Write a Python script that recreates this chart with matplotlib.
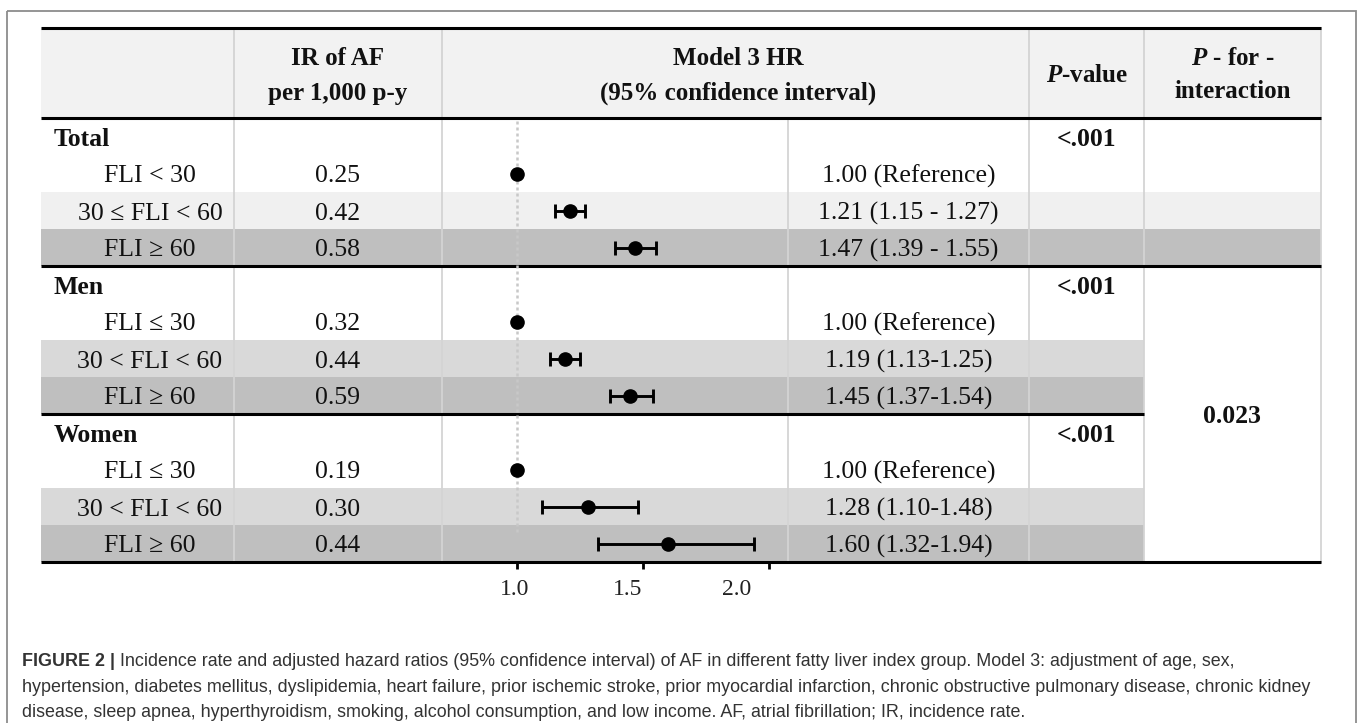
import matplotlib
matplotlib.use("Agg")
import matplotlib.pyplot as plt
from matplotlib.patches import Rectangle

plt.rcParams['font.family'] = ['Liberation Serif', 'DejaVu Serif']
plt.rcParams['mathtext.fontset'] = 'custom'
plt.rcParams['mathtext.it'] = 'Liberation Serif:italic:bold'
plt.rcParams['mathtext.rm'] = 'Liberation Serif:bold'

# data
groups = ['Total', 'Men', 'Women']
sub_labels = [['FLI < 30', '30 ≤ FLI < 60', 'FLI ≥ 60'],
              ['FLI ≤ 30', '30 < FLI < 60', 'FLI ≥ 60'],
              ['FLI ≤ 30', '30 < FLI < 60', 'FLI ≥ 60']]
ir_af = [['0.25', '0.42', '0.58'],
         ['0.32', '0.44', '0.59'],
         ['0.19', '0.30', '0.44']]
hr = [[1.00, 1.21, 1.47], [1.00, 1.19, 1.45], [1.00, 1.28, 1.60]]
hr_lo = [[1.00, 1.15, 1.39], [1.00, 1.13, 1.37], [1.00, 1.10, 1.32]]
hr_hi = [[1.00, 1.27, 1.55], [1.00, 1.25, 1.54], [1.00, 1.48, 1.94]]
hr_text = [['1.00 (Reference)', '1.21 (1.15 - 1.27)', '1.47 (1.39 - 1.55)'],
           ['1.00 (Reference)', '1.19 (1.13-1.25)', '1.45 (1.37-1.54)'],
           ['1.00 (Reference)', '1.28 (1.10-1.48)', '1.60 (1.32-1.94)']]
p_values = ['<.001', '<.001', '<.001']
p_interaction = '0.023'
ref_hr = 1.0
x_ticks = [1.0, 1.5, 2.0]
x_tick_labels = ['1.0', '1.5', '2.0']
x_label_pos = [0.99, 1.44, 1.87]

caption_bold = 'FIGURE 2 |'
caption_lines = [
    ' Incidence rate and adjusted hazard ratios (95% confidence interval) of AF in different fatty liver index group. Model 3: adjustment of age, sex,',
    'hypertension, diabetes mellitus, dyslipidemia, heart failure, prior ischemic stroke, prior myocardial infarction, chronic obstructive pulmonary disease, chronic kidney',
    'disease, sleep apnea, hyperthyroidism, smoking, alcohol consumption, and low income. AF, atrial fibrillation; IR, incidence rate.',
]

# layout (pixels)
W, H = 1357, 723
left, right = 41, 1321
cols = [41, 234, 442, 788, 1029, 1144, 1321]
top, head_bot, bottom = 28, 118, 562
row_h = (bottom - head_bot) / 12
shades = [['white', '#f0f0f0', '#bfbfbf'],
          ['white', '#d9d9d9', '#bfbfbf'],
          ['white', '#d9d9d9', '#bfbfbf']]
txt = '#111111'
fs = 18.5

fig = plt.figure(figsize=(W / 100, H / 100), dpi=100)
ax = fig.add_axes([0, 0, 1, 1])
ax.set_xlim(0, W)
ax.set_ylim(H, 0)
ax.axis('off')

# outer frame
ax.add_patch(Rectangle((7, 11), 1349, 720, fill=False, ec='#8c8c8c', lw=1.3))

# header background
ax.add_patch(Rectangle((left, top), right - left, head_bot - top, color='#f2f2f2', lw=0))

# row shading
for g in range(3):
    x_end = right if g == 0 else cols[5]
    for k in range(3):
        y = head_bot + (4 * g + 1 + k) * row_h
        if shades[g][k] != 'white':
            ax.add_patch(Rectangle((left, y), x_end - left, row_h, color=shades[g][k], lw=0))

# vertical separators
vcol = '#d4d4d4'
for x in cols[1:]:
    y0 = head_bot if x == cols[3] else top
    ax.plot([x, x], [y0, bottom], color=vcol, lw=1.3, zorder=2)

# thick horizontal rules
for y, xe in [(top, right), (head_bot, right), (head_bot + 4 * row_h, right),
              (head_bot + 8 * row_h, cols[5]), (bottom, right)]:
    ax.plot([left, xe], [y, y], color='black', lw=2.2, zorder=3, solid_capstyle='butt')

# header text
hfs = 18
ax.text((cols[1] + cols[2]) / 2, 65, 'IR of AF', ha='center', va='baseline', fontsize=hfs, fontweight='bold', color=txt)
ax.text((cols[1] + cols[2]) / 2, 100, 'per 1,000 p-y', ha='center', va='baseline', fontsize=hfs, fontweight='bold', color=txt)
ax.text(738, 65, 'Model 3 HR', ha='center', va='baseline', fontsize=hfs, fontweight='bold', color=txt)
ax.text(738, 100, '(95% confidence interval)', ha='center', va='baseline', fontsize=hfs, fontweight='bold', color=txt)
ax.text((cols[4] + cols[5]) / 2, 82, r'$P$-value', ha='center', va='baseline', fontsize=hfs, fontweight='bold', color=txt)
ax.text((cols[5] + cols[6]) / 2, 65, r'$P$ - for -', ha='center', va='baseline', fontsize=hfs, fontweight='bold', color=txt)
ax.text((cols[5] + cols[6]) / 2, 98, 'interaction', ha='center', va='baseline', fontsize=hfs, fontweight='bold', color=txt)

# body text
for g in range(3):
    yc = head_bot + (4 * g + 0.5) * row_h
    ax.text(54, yc + 9, groups[g], ha='left', va='baseline', fontsize=fs, fontweight='bold', color=txt)
    ax.text((cols[4] + cols[5]) / 2, yc + 9, p_values[g], ha='center', va='baseline', fontsize=fs, fontweight='bold', color=txt)
    for k in range(3):
        yc = head_bot + (4 * g + 1 + k + 0.5) * row_h
        ax.text(150, yc + 9, sub_labels[g][k], ha='center', va='baseline', fontsize=fs, color=txt)
        ax.text((cols[1] + cols[2]) / 2, yc + 9, ir_af[g][k], ha='center', va='baseline', fontsize=fs, color=txt)
        ax.text((cols[3] + cols[4]) / 2, yc + 9, hr_text[g][k], ha='center', va='baseline', fontsize=fs, color=txt)
ax.text((cols[5] + cols[6]) / 2, head_bot + 8 * row_h + 9, p_interaction, ha='center', va='baseline',
        fontsize=fs, fontweight='bold', color=txt)

# forest plot
fa = fig.add_axes([cols[2] / W, 1 - bottom / H, (cols[3] - cols[2]) / W, (bottom - head_bot) / H])
fa.patch.set_alpha(0)
fa.set_xlim(1 - (517 - cols[2]) / 252, 1 + (cols[3] - 517) / 252)
fa.set_ylim(12, 0)
for s in fa.spines.values():
    s.set_visible(False)
fa.axvline(ref_hr, ymin=1 - 11.2 / 12, ymax=1, color='#c8c8c8', lw=1.8, ls=(0, (1.2, 1.2)), zorder=1)

ys, xs, lo, hi = [], [], [], []
for g in range(3):
    for k in range(3):
        ys.append(4 * g + 1 + k + 0.5)
        xs.append(hr[g][k])
        lo.append(hr_lo[g][k])
        hi.append(hr_hi[g][k])
ci = [i for i in range(len(xs)) if hi[i] > lo[i]]
fa.errorbar([xs[i] for i in ci], [ys[i] for i in ci],
            xerr=[[xs[i] - lo[i] for i in ci], [hi[i] - xs[i] for i in ci]],
            fmt='none', ecolor='black', elinewidth=2.1, capsize=4.8, capthick=2.1, zorder=3)
fa.plot(xs, ys, 'o', color='black', ms=9.5, zorder=4)

fa.set_yticks([])
fa.set_xticks(x_ticks, labels=['', '', ''])
fa.set_xticks(x_label_pos, labels=x_tick_labels, minor=True)
fa.tick_params(axis='x', which='major', direction='out', length=5, width=2, color='black')
fa.tick_params(axis='x', which='minor', length=0, pad=12, labelsize=17, labelcolor='#222222')

# caption
cap_fs = 12.9
cap_col = '#333333'
t0 = ax.text(22, 666, caption_bold, ha='left', va='baseline', fontsize=cap_fs, fontweight='bold',
             color=cap_col, family=['Liberation Sans', 'DejaVu Sans'])
ax.annotate(caption_lines[0], xy=(1, 0), xycoords=t0, ha='left', va='bottom', fontsize=cap_fs,
            color=cap_col, family=['Liberation Sans', 'DejaVu Sans'])
ax.text(22, 691.5, caption_lines[1], ha='left', va='baseline', fontsize=cap_fs, color=cap_col,
        family=['Liberation Sans', 'DejaVu Sans'])
ax.text(22, 717, caption_lines[2], ha='left', va='baseline', fontsize=cap_fs, color=cap_col,
        family=['Liberation Sans', 'DejaVu Sans'])

fig.savefig('out.png', dpi=100)
